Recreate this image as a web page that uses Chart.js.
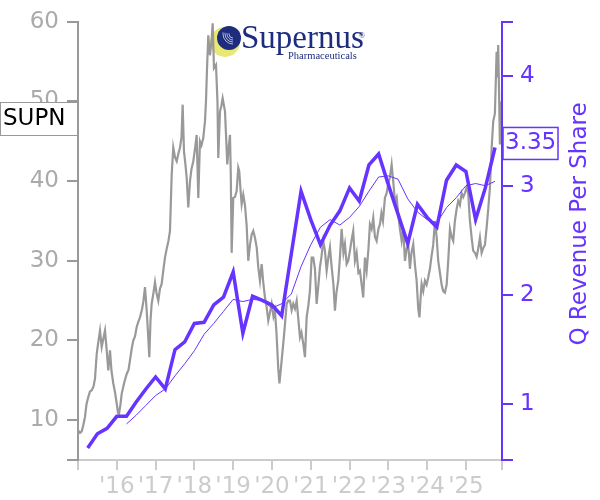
<!DOCTYPE html>
<html>
<head>
<meta charset="utf-8">
<script src="https://cdn.jsdelivr.net/npm/chart.js@4/dist/chart.umd.min.js"></script>
<style>
  html, body { margin: 0; padding: 0; background: #fff; }
</style>
</head>
<body>
<canvas id="chart" width="600" height="500"></canvas>
<script>
// SUPN share price vs quarterly revenue per share

var priceDates = [
  2015.000, 2015.052, 2015.095, 2015.129, 2015.180, 2015.219, 2015.265, 2015.309, 2015.353, 2015.399,
  2015.438, 2015.482, 2015.515, 2015.567, 2015.611, 2015.644, 2015.696, 2015.740, 2015.781, 2015.825,
  2015.863, 2015.910, 2015.954, 2015.997, 2016.031, 2016.057, 2016.095, 2016.126, 2016.186, 2016.255,
  2016.302, 2016.340, 2016.379, 2016.425, 2016.469, 2016.513, 2016.559, 2016.598, 2016.649, 2016.688,
  2016.727, 2016.771, 2016.804, 2016.838, 2016.869, 2016.899, 2016.946, 2016.985, 2017.023, 2017.070,
  2017.113, 2017.157, 2017.204, 2017.242, 2017.286, 2017.332, 2017.371, 2017.415, 2017.456, 2017.500,
  2017.544, 2017.590, 2017.629, 2017.668, 2017.698, 2017.732, 2017.771, 2017.802, 2017.843, 2017.887,
  2017.925, 2017.972, 2018.015, 2018.059, 2018.101, 2018.144, 2018.183, 2018.229, 2018.273, 2018.299,
  2018.325, 2018.358, 2018.402, 2018.441, 2018.472, 2018.505, 2018.557, 2018.595, 2018.616, 2018.660,
  2018.698, 2018.729, 2018.789, 2018.814, 2018.848, 2018.879, 2018.918, 2018.938, 2018.961, 2019.003,
  2019.046, 2019.090, 2019.131, 2019.157, 2019.188, 2019.219, 2019.260, 2019.304, 2019.348, 2019.389,
  2019.433, 2019.477, 2019.518, 2019.562, 2019.606, 2019.647, 2019.691, 2019.735, 2019.781, 2019.820,
  2019.863, 2019.905, 2019.948, 2019.992, 2020.039, 2020.077, 2020.116, 2020.162, 2020.193, 2020.250,
  2020.291, 2020.335, 2020.379, 2020.420, 2020.464, 2020.508, 2020.549, 2020.593, 2020.637, 2020.683,
  2020.722, 2020.760, 2020.807, 2020.851, 2020.894, 2020.941, 2020.979, 2021.023, 2021.064, 2021.108,
  2021.152, 2021.198, 2021.237, 2021.276, 2021.322, 2021.366, 2021.410, 2021.456, 2021.495, 2021.534,
  2021.585, 2021.624, 2021.662, 2021.709, 2021.753, 2021.796, 2021.843, 2021.881, 2021.925, 2021.966,
  2022.010, 2022.049, 2022.095, 2022.139, 2022.183, 2022.229, 2022.268, 2022.353, 2022.397, 2022.441,
  2022.487, 2022.526, 2022.570, 2022.611, 2022.655, 2022.698, 2022.745, 2022.784, 2022.822, 2022.861,
  2022.912, 2022.956, 2022.997, 2023.041, 2023.085, 2023.126, 2023.170, 2023.214, 2023.255, 2023.299,
  2023.343, 2023.384, 2023.428, 2023.472, 2023.513, 2023.557, 2023.595, 2023.642, 2023.686, 2023.729,
  2023.771, 2023.802, 2023.840, 2023.858, 2023.899, 2023.943, 2023.987, 2024.028, 2024.072, 2024.111,
  2024.157, 2024.201, 2024.245, 2024.286, 2024.330, 2024.374, 2024.415, 2024.459, 2024.503, 2024.544,
  2024.588, 2024.632, 2024.673, 2024.716, 2024.760, 2024.802, 2024.845, 2024.889, 2024.930, 2024.974,
  2025.018, 2025.059, 2025.103, 2025.147, 2025.188, 2025.232, 2025.276, 2025.317, 2025.361, 2025.405,
  2025.446, 2025.490, 2025.534, 2025.575, 2025.619, 2025.663, 2025.704, 2025.747, 2025.791, 2025.812,
  2025.832, 2025.858, 2025.876
];
var priceValues = [
  8.75, 8.4, 8.6, 9.2, 10.4, 12.0, 12.9, 13.6, 13.75, 14.2,
  15.2, 18.3, 19.5, 21.25, 19.2, 20.0, 21.25, 18.75, 16.25, 18.75,
  16.2, 14.6, 13.5, 12.1, 10.9, 10.8, 12.0, 13.3, 14.6, 15.8,
  16.3, 17.5, 18.8, 20.0, 20.5, 21.7, 22.4, 22.9, 23.9, 25.0,
  26.7, 23.75, 21.0, 17.9, 22.5, 24.6, 26.0, 27.3, 26.0, 25.0,
  26.5, 27.1, 29.0, 30.4, 31.5, 32.5, 33.75, 40.8, 44.2, 43.0,
  42.5, 43.5, 44.2, 45.5, 49.6, 43.75, 42.0, 40.4, 36.7, 40.0,
  41.5, 42.5, 44.0, 45.8, 37.9, 45.0, 44.5, 45.4, 47.5, 50.0,
  54.0, 58.3, 55.8, 57.5, 59.8, 54.2, 54.6, 50.0, 42.9, 48.75,
  49.5, 50.4, 48.75, 46.0, 42.1, 44.0, 45.8, 41.0, 31.0, 37.9,
  38.0, 38.75, 41.7, 41.25, 39.0, 37.1, 38.3, 37.0, 34.4, 30.0,
  32.0, 33.3, 33.75, 32.9, 31.7, 29.2, 27.5, 29.6, 27.0, 25.4,
  24.2, 22.5, 23.5, 24.6, 23.0, 23.75, 21.0, 16.5, 14.6, 17.5,
  19.6, 22.0, 24.6, 25.0, 25.0, 23.8, 24.6, 24.0, 25.0, 22.5,
  20.4, 21.0, 19.6, 17.9, 22.9, 24.5, 26.25, 30.4, 30.4, 29.0,
  24.6, 27.0, 29.2, 30.5, 32.5, 31.25, 28.75, 30.5, 31.7, 29.5,
  27.0, 23.75, 26.0, 27.5, 30.5, 34.0, 31.0, 32.1, 29.6, 30.0,
  31.25, 32.5, 33.75, 30.0, 31.0, 28.5, 28.75, 25.4, 30.4, 28.75,
  31.5, 34.6, 34.0, 35.4, 33.0, 32.5, 34.0, 34.6, 36.0, 35.0,
  37.9, 38.5, 39.6, 40.5, 42.1, 40.0, 37.5, 38.0, 35.8, 34.0,
  32.5, 34.0, 30.0, 31.5, 32.1, 29.0, 31.0, 32.1, 29.5, 27.5,
  24.0, 22.9, 26.0, 27.1, 26.2, 27.5, 27.0, 27.9, 29.0, 30.5,
  32.0, 35.0, 33.0, 30.0, 28.5, 27.0, 26.2, 26.0, 27.0, 30.0,
  34.0, 33.0, 32.5, 35.0, 36.5, 37.5, 37.0, 38.5, 38.0, 38.5,
  39.2, 38.5, 35.0, 32.9, 31.25, 31.0, 30.5, 31.5, 32.9, 31.0,
  31.6, 32.0, 34.2, 36.5, 39.2, 44.2, 47.5, 48.5, 56.25, 53.0,
  57.1, 50.0, 44.6
];

var revQuarters = [
  '2015Q1', '2015Q2', '2015Q3', '2015Q4', '2016Q1', '2016Q2', '2016Q3', '2016Q4',
  '2017Q1', '2017Q2', '2017Q3', '2017Q4', '2018Q1', '2018Q2', '2018Q3', '2018Q4',
  '2019Q1', '2019Q2', '2019Q3', '2019Q4', '2020Q1', '2020Q2', '2020Q3', '2020Q4',
  '2021Q1', '2021Q2', '2021Q3', '2021Q4', '2022Q1', '2022Q2', '2022Q3', '2022Q4',
  '2023Q1', '2023Q2', '2023Q3', '2023Q4', '2024Q1', '2024Q2', '2024Q3', '2024Q4',
  '2025Q1', '2025Q2', '2025Q3'
];
var revPerShare = [
  0.60, 0.73, 0.78, 0.89, 0.89, 1.02, 1.14, 1.25,
  1.14, 1.50, 1.57, 1.74, 1.75, 1.91, 1.98, 2.21,
  1.65, 1.99, 1.95, 1.91, 1.81, 2.38, 2.95, 2.69,
  2.46, 2.64, 2.77, 2.98, 2.86, 3.19, 3.29, 3.01,
  2.74, 2.47, 2.83, 2.71, 2.62, 3.05, 3.19, 3.13,
  2.69, 2.98, 3.35
];
// trailing four-quarter average (thin line)
var revAvg = [
  null, null, null, null, 0.82, 0.90, 0.99, 1.08,
  1.14, 1.26, 1.37, 1.49, 1.64, 1.74, 1.85, 1.96,
  1.94, 1.96, 1.95, 1.88, 1.92, 2.01, 2.26, 2.46,
  2.62, 2.69, 2.64, 2.71, 2.81, 2.95, 3.08, 3.09,
  3.06, 2.88, 2.76, 2.69, 2.66, 2.80, 2.89, 3.00,
  3.02, 3.00, 3.04
];

var yearTicks = [2015, 2016, 2017, 2018, 2019, 2020, 2021, 2022, 2023, 2024, 2025];
var priceTicks = [5, 10, 20, 30, 40, 50, 60];
var revTicks = [1, 2, 3, 4];

var X_MIN = 2015, X_MAX = 2025.93;
var L_MIN = 5, L_MAX = 60;
var R_MIN = 0.49, R_MAX = 4.5;

var PURPLE = '#6633ff';
var GRAY = '#999999';

Chart.defaults.font.family = 'DejaVu Sans';
Chart.defaults.font.size = 23;

function toPoints(xs, ys) {
  var out = [];
  for (var i = 0; i < xs.length; i++) {
    if (ys[i] !== null) out.push({ x: xs[i], y: ys[i] });
  }
  return out;
}
var revDates = revQuarters.map(function(q) {
  return parseInt(q.slice(0, 4), 10) + parseInt(q.slice(5), 10) / 4;
});

var logoPlugin = {
  id: 'logo',
  beforeDatasetsDraw: function(chart) {
    var ctx = chart.ctx;
    ctx.save();
    ctx.fillStyle = '#e8e874';
    ctx.beginPath(); ctx.arc(225, 42, 15, 0, Math.PI * 2); ctx.fill();
    ctx.fillStyle = '#1d2c7c';
    ctx.beginPath(); ctx.arc(229, 38, 12, 0, Math.PI * 2); ctx.fill();
    ctx.clip();
    ctx.strokeStyle = 'rgba(255,255,255,0.85)';
    ctx.lineWidth = 0.8;
    [4, 6, 8, 10].forEach(function(r) {
      ctx.beginPath(); ctx.arc(233, 34, r, Math.PI * 0.5, Math.PI * 1.05); ctx.stroke();
    });
    ctx.restore();
    ctx.save();
    ctx.fillStyle = '#1d2c7c';
    ctx.textBaseline = 'alphabetic';
    ctx.font = '33px "Liberation Serif"';
    ctx.fillText('Supernus', 241, 48);
    ctx.font = '10.5px "Liberation Serif"';
    ctx.fillText('Pharmaceuticals', 288, 59);
    ctx.font = '8px "Liberation Serif"';
    ctx.fillText('\u00ae', 359, 38);
    ctx.restore();
  }
};

var overlayPlugin = {
  id: 'overlay',
  afterDraw: function(chart) {
    var ctx = chart.ctx;
    var yR = chart.scales.yR;
    ctx.save();
    // right axis title
    ctx.translate(580, 224);
    ctx.rotate(-Math.PI / 2);
    ctx.fillStyle = PURPLE;
    ctx.font = '23px "DejaVu Sans"';
    ctx.textAlign = 'center';
    ctx.textBaseline = 'middle';
    ctx.fillText('Q Revenue Per Share', 0, 0);
    ctx.restore();

    // ticker box
    ctx.save();
    ctx.fillStyle = '#fff';
    ctx.fillRect(0.5, 102.5, 77, 33);
    ctx.strokeStyle = '#999';
    ctx.lineWidth = 1;
    ctx.strokeRect(0.5, 102.5, 77, 33);
    ctx.fillStyle = '#000';
    ctx.font = '23px "DejaVu Sans"';
    ctx.textBaseline = 'middle';
    ctx.fillText('SUPN', 3, 119);

    // last value box
    var last = revPerShare[revPerShare.length - 1];
    var py = yR.getPixelForValue(last);
    ctx.fillStyle = '#fff';
    ctx.fillRect(503, py - 20, 55, 32);
    ctx.strokeStyle = PURPLE;
    ctx.lineWidth = 1.5;
    ctx.strokeRect(503, py - 20, 55, 32);
    ctx.fillStyle = PURPLE;
    ctx.fillText(last.toFixed(2), 505, py - 4);
    ctx.restore();
  }
};

new Chart(document.getElementById('chart'), {
  type: 'line',
  data: {
    datasets: [
      {
        label: 'Q Revenue Per Share',
        data: toPoints(revDates, revPerShare),
        yAxisID: 'yR',
        borderColor: PURPLE,
        borderWidth: 3.5,
        pointRadius: 0,
        tension: 0,
        order: 0
      },
      {
        label: 'Average',
        data: toPoints(revDates, revAvg),
        yAxisID: 'yR',
        borderColor: PURPLE,
        borderWidth: 1,
        pointRadius: 0,
        tension: 0,
        order: 1
      },
      {
        label: 'SUPN',
        data: toPoints(priceDates, priceValues),
        yAxisID: 'yL',
        borderColor: GRAY,
        borderWidth: 2.2,
        pointRadius: 0,
        tension: 0,
        order: 2
      }
    ]
  },
  options: {
    responsive: false,
    animation: false,
    devicePixelRatio: 1,
    layout: { padding: { top: 20, left: 0, right: 0, bottom: 0 } },
    plugins: { legend: { display: false }, tooltip: { enabled: false } },
    scales: {
      x: {
        type: 'linear',
        min: X_MIN,
        max: X_MAX,
        afterFit: function(s) { s.height = 40; },
        afterBuildTicks: function(s) {
          s.ticks = yearTicks.concat([X_MAX]).map(function(v) { return { value: v }; });
        },
        ticks: {
          autoSkip: false,
          maxRotation: 0,
          color: '#cccccc',
          padding: 3,
          callback: function(v) {
            return (v >= 2016 && v % 1 === 0) ? "'" + String(v).slice(2) : '';
          }
        },
        grid: { drawOnChartArea: false, tickLength: 10, color: '#cccccc', lineWidth: 2 },
        border: { color: '#cccccc', width: 2 }
      },
      yL: {
        position: 'left',
        min: L_MIN,
        max: L_MAX,
        afterFit: function(s) { s.width = 78; },
        afterBuildTicks: function(s) {
          s.ticks = priceTicks.map(function(v) { return { value: v }; });
        },
        ticks: {
          color: '#aaaaaa',
          padding: 8,
          callback: function(v) { return v === L_MIN ? '' : v; }
        },
        grid: { drawOnChartArea: false, tickLength: 11, color: GRAY, lineWidth: 2 },
        border: { color: GRAY, width: 2 }
      },
      yR: {
        position: 'right',
        min: R_MIN,
        max: R_MAX,
        afterFit: function(s) { s.width = 98; },
        afterBuildTicks: function(s) {
          s.ticks = [R_MIN].concat(revTicks, [R_MAX]).map(function(v) { return { value: v }; });
        },
        ticks: {
          color: PURPLE,
          padding: 7,
          callback: function(v) { return revTicks.indexOf(v) >= 0 ? v : ''; }
        },
        grid: { drawOnChartArea: false, tickLength: 11, color: PURPLE, lineWidth: 2 },
        border: { color: PURPLE, width: 2 }
      }
    }
  },
  plugins: [logoPlugin, overlayPlugin]
});
</script>
</body>
</html>
